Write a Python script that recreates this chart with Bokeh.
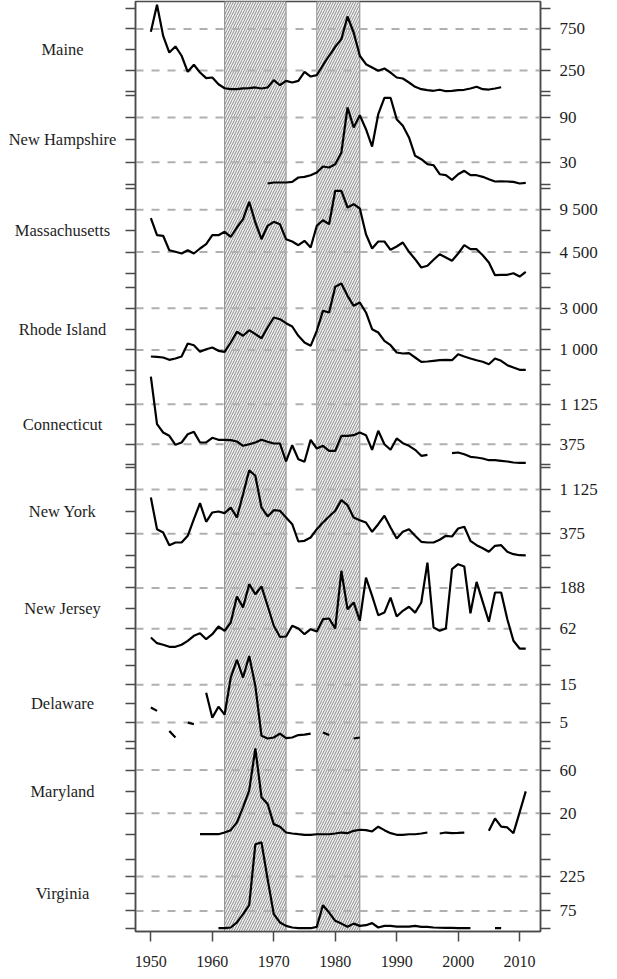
import numpy as np
from bokeh.plotting import figure
from bokeh.models import (Range1d, LinearAxis, FixedTicker, Span, BoxAnnotation,
                          ColumnDataSource)
from bokeh.core.properties import value
from bokeh.layouts import row
from bokeh.embed import file_html
from bokeh.resources import INLINE

N = None
years = list(range(1950, 2012))

states = ["Maine", "New Hampshire", "Massachusetts", "Rhode Island", "Connecticut",
          "New York", "New Jersey", "Delaware", "Maryland", "Virginia"]

maine = [716, 1041, 667, 466, 539, 427, 234, 318, 225, 157,
         165, 84, 36, 24, 24, 33, 36, 45, 33, 45,
         133, 72, 125, 105, 125, 234, 177, 193, 313, 427,
         535, 627, 900, 707, 427, 325, 286, 246, 273, 225,
         165, 153, 105, 53, 24, 12, 5, 17, 0, 5,
         12, 17, 33, 53, 24, 20, 33, 48, N, N,
         N, N]
new_hampshire = [N] * 19 + [
         1.3, 2.7, 2.7, 2.7, 3.6, 9.4, 10.3, 12.5, 16.1, 24.2, 22.8,
         27.3, 43, 103.5, 76.6, 93.1, 74.3, 51, 94.5, 116.5, 116.5,
         87.8, 78.9, 63.2, 38.6, 34, 27.3, 25.9, 13.8, 12.5, 6.3,
         13.8, 18.4, 12.5, 12.5, 10.3, 7.1, 4, 4.4, 4, 3.6,
         1.3, 2.3]
massachusetts = [8493, 6486, 6416, 4716, 4527, 4326, 4716, 4326, 4916, 5424,
                 6486, 6486, 6888, 6297, 7395, 8375, 10429, 7986, 6014, 7596,
                 8068, 7785, 6014, 5743, 5306, 5825, 5034, 7596, 8257, 7785,
                 11728, 11728, 9757, 10146, 9639, 6604, 4916, 5743, 5743, 4763,
                 5152, 5625, 4527, 3653, 2673, 2874, 3582, 4243, 3854, 3464,
                 4326, 5306, 4834, 4834, 4125, 3263, 1764, 1811, 1811, 2000,
                 1610, 2165]
rhode_island = [687, 672, 639, 528, 591, 687, 1311, 1229, 912, 1037,
                1119, 960, 912, 1359, 1873, 1681, 1950, 1758, 1565, 2079,
                2559, 2478, 2286, 2127, 1681, 1359, 1200, 1921, 2881, 2800,
                4034, 4192, 3601, 3121, 3280, 2800, 1998, 1839, 1441, 1229,
                879, 831, 845, 639, 432, 447, 480, 509, 528, 509,
                797, 687, 591, 509, 432, 317, 591, 480, 269, 158,
                48, 48]
connecticut = [1644, 750, 594, 532, 364, 407, 562, 607, 407, 407,
               495, 457, 457, 450, 426, 345, 375, 407, 457, 420,
               388, 388, 51, 356, 94, 45, 457, 294, 345, 251,
               251, 532, 532, 544, 594, 544, 270, 626, 375, 270,
               482, 394, 345, 270, 157, 176, N, N, N, 206,
               219, 187, 139, 126, 107, 75, 75, 64, 51, 32,
               26, 26]
new_york = [990, 452, 396, 180, 226, 226, 340, 622, 894, 578,
            736, 753, 724, 821, 651, 1047, 1454, 1359, 821, 668,
            775, 765, 651, 537, 243, 255, 311, 452, 566, 668,
            765, 945, 860, 651, 605, 566, 408, 537, 680, 481,
            294, 408, 452, 340, 238, 226, 226, 272, 340, 328,
            464, 493, 255, 180, 129, 68, 170, 180, 68, 27,
            10, 8]
new_jersey = [35.8, 18.4, 13.5, 7.3, 7.3, 13.5, 25.7, 41, 49, 30.6,
              45.9, 69.5, 56.3, 81.7, 161, 127.6, 199, 168, 192, 133,
              71.6, 38, 38.9, 71.6, 63.3, 45.9, 61.2, 54.2, 91.8, 94,
              63.3, 240, 122, 143, 87, 219, 163, 104, 112, 158,
              100, 117.5, 130, 112, 143, 265, 66.4, 56.3, 63.3, 245,
              260, 253, 110, 206, 145, 84, 173.5, 173.5, 91.8, 25.7,
              2, 2]
delaware = [9.0, 8.1, N, 2.8, 1.06, N, 5.0, 4.6, N, 12.9,
            6.3, 9.2, 7.1, 16.9, 21.6, 16.9, 22.6, 14.7, 1.5, 0.8,
            1.06, 2.1, 0.9, 1.06, 1.7, 1.8, 2.1, N, 2.4, 1.7,
            N, N, N, 0.8, 1.06, N, N, N, N, N] + [N] * 22
maryland = [N] * 8 + [0.56, 0.56,
            0.56, 0.56, 2.1, 4.3, 11.5, 25.5, 41.1, 80, 34.9, 28.6,
            9.9, 7.5, 2.1, 1.2, 0.56, 0, 0, 0.5, 0.5, 0.5,
            1.2, 2.1, 1.5, 3.7, 4.7, 4.3, 3.1, 7.5, 4.3, 1.5,
            0, 0, 0.5, 0.5, 1.2, 2.1, N, 1.2, 2.1, 1.5,
            1.7, 2.1, N, N, N, 3.7, 15.2, 7.5, 6.8, 1.5,
            20.8, 40.2]
virginia = [N] * 11 + [0, 0, 3, 25, 61, 100, 365, 373, 213,
            61, 25, 10, 3, 0, 0, 0, 6, 100, 68,
            32, 20, 6, 20, 10, 13, 22, 3, 10, 10,
            7, 7, 7, 10, 6, 6, 3, 2, 1, 1,
            0, 0, 0, N, N, N, 0, 0, N, N,
            N, N]

series = [maine, new_hampshire, massachusetts, rhode_island, connecticut,
          new_york, new_jersey, delaware, maryland, virginia]

tick_values = [[0, 250, 500, 750, 1000], [0, 30, 60, 90, 120],
               [2000, 4500, 7000, 9500, 12000], [0, 1000, 2000, 3000, 4000],
               [0, 375, 750, 1125, 1500], [0, 375, 750, 1125, 1500],
               [0, 62.5, 125, 187.5, 250], [0, 5, 10, 15, 20],
               [0, 20, 40, 60, 80], [0, 75, 150, 225, 300]]
tick_labels = [["", "250", "", "750", ""], ["", "30", "", "90", ""],
               ["", "4 500", "", "9 500", ""], ["", "1 000", "", "3 000", ""],
               ["", "375", "", "1 125", ""], ["", "375", "", "1 125", ""],
               ["", "62", "", "188", ""], ["", "5", "", "15", ""],
               ["", "20", "", "60", ""], ["", "75", "", "225", ""]]

x_ticks = [1950, 1960, 1970, 1980, 1990, 2000, 2010]
band_start = [1962, 1977]
band_end = [1972, 1984]

# ---- layout (page pixels) ----
FRAME_T, FRAME_B = 9, 939
tick_px = [(15.7, 98.7), (102.7, 192), (196, 280.7), (295, 378.3), (391.7, 471.7),
           (475, 563.3), (575, 656.7), (673.3, 749), (756, 842.3), (866.7, 935.7)]
NAMES_W = 122
FRAME_W = 405
BORDER_L, BORDER_R = 13, 62
BOTTOM_B = 44
XR = (1947.5, 2013.4)
NAME_X_PX = 62   # centre of names, within the names panel

FONT = "Liberation Serif"
AX = "#4a4a4a"
TXT = "#1e1e1e"

H = (FRAME_B - FRAME_T) + 1 + BOTTOM_B
p = figure(width=BORDER_L + FRAME_W + BORDER_R, height=H,
           x_range=Range1d(*XR), y_range=Range1d(FRAME_B, FRAME_T),
           x_axis_location=None, y_axis_location=None,
           toolbar_location=None, output_backend="svg", title=None,
           min_border_left=BORDER_L, min_border_right=BORDER_R,
           min_border_top=1, min_border_bottom=BOTTOM_B,
           outline_line_color=AX, outline_line_width=1.5,
           background_fill_color="white", border_fill_color="white")
p.grid.visible = False

# hatched periods
for a, b in zip(band_start, band_end):
    p.add_layout(BoxAnnotation(left=a, right=b, fill_color="#f0f0f0", fill_alpha=1,
                               hatch_pattern="/", hatch_color="#8c8c8c", hatch_alpha=1,
                               hatch_scale=5, hatch_weight=1, line_color=None,
                               level="underlay"))
for e in band_start + band_end:
    p.add_layout(Span(location=e, dimension="height", line_color="#8c8c8c",
                      line_width=1, level="underlay"))

axis_ticks, right_over = [], {}
extra = {}
for i in range(len(states)):
    pt, pb = tick_px[i]
    ticks = tick_values[i]
    vmin, vmax = ticks[0], ticks[-1]
    s = (vmax - vmin) / (pb - pt)
    name = f"panel{i}"
    extra[name] = Range1d(vmin - (FRAME_B - pb) * s, vmax + (pt - FRAME_T) * s)
    for t, lab in zip(ticks, tick_labels[i]):
        pos = round(pb - (t - vmin) / s, 3)
        axis_ticks.append(pos)
        right_over[pos] = lab
p.extra_y_ranges = extra

for i in range(len(states)):
    name = f"panel{i}"
    for t, lab in zip(tick_values[i], tick_labels[i]):
        if lab:
            p.add_layout(Span(location=t, dimension="width", y_range_name=name,
                              line_color="#b0b0b0", line_width=2, line_dash="8 8",
                              level="underlay"))
    src = ColumnDataSource(dict(x=years, y=np.array(series[i], dtype=float)))
    p.line("x", "y", source=src, y_range_name=name, line_color="black", line_width=2.2)

axis_kw = dict(axis_line_color=AX, axis_line_width=1.5, major_tick_line_color=AX,
               major_tick_line_width=1.5, major_tick_out=10, major_tick_in=0,
               minor_tick_line_color=None)
yl = LinearAxis(ticker=FixedTicker(ticks=axis_ticks),
                major_label_overrides={t: "" for t in axis_ticks},
                major_label_text_font_size="1px", major_label_standoff=0, **axis_kw)
p.add_layout(yl, "left")
yr = LinearAxis(ticker=FixedTicker(ticks=axis_ticks), major_label_overrides=right_over,
                major_label_text_font=FONT, major_label_text_font_size="17px",
                major_label_text_color=TXT, major_label_standoff=9, **axis_kw)
p.add_layout(yr, "right")
xa = LinearAxis(ticker=FixedTicker(ticks=x_ticks), major_label_standoff=14,
                major_label_text_font=FONT, major_label_text_font_size="16px",
                major_label_text_color=TXT, **axis_kw)
p.add_layout(xa, "below")

# state names: a panel on the left sharing the frame's vertical extent
names = figure(width=NAMES_W, height=H, x_range=Range1d(0, NAMES_W),
               y_range=Range1d(FRAME_B, FRAME_T), x_axis_location=None,
               y_axis_location=None, toolbar_location=None, output_backend="svg",
               title=None, min_border_left=0, min_border_right=0, min_border_top=1,
               min_border_bottom=BOTTOM_B, outline_line_color=None,
               border_fill_color="white", background_fill_color="white")
names.grid.visible = False
names.text(x=[NAME_X_PX] * len(states),
           y=[(a + b) / 2 for a, b in tick_px],
           text=states, text_font=value(FONT), text_font_size=value("16.5px"),
           text_color=TXT, text_align="center", text_baseline="middle")

layout = row(names, p, spacing=0)
open("out.html", "w").write(file_html(layout, INLINE))
